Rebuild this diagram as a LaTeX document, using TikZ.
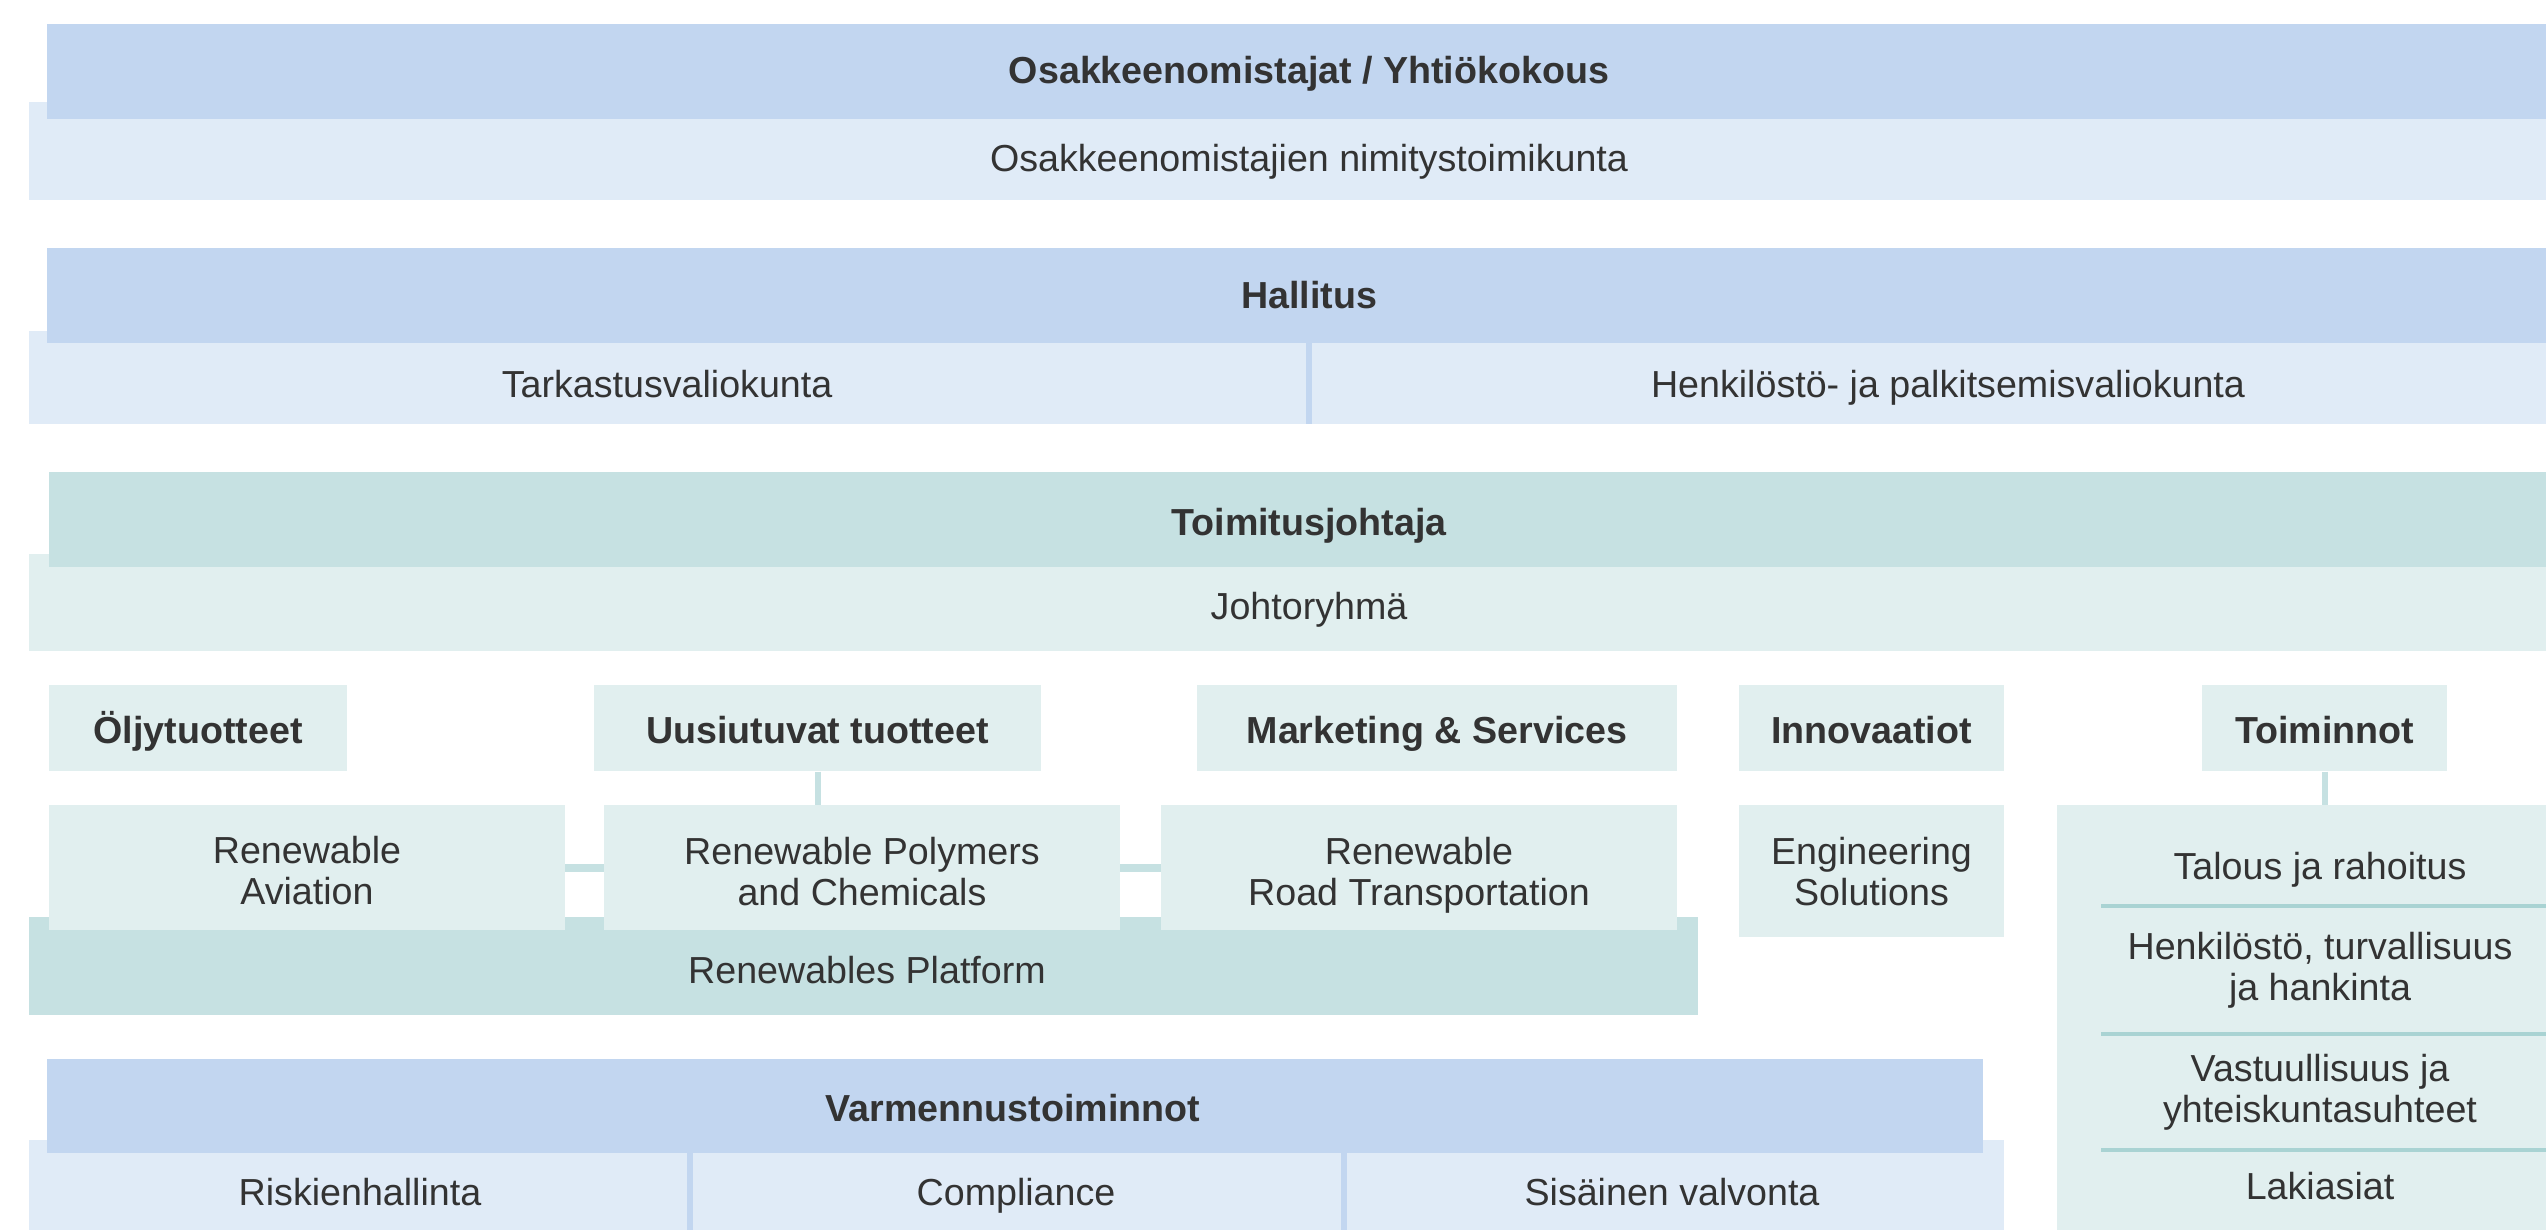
\documentclass[tikz,border=0pt]{standalone}
\usepackage{fontspec}
\setmainfont{Liberation Sans}
\definecolor{bdark}{HTML}{C2D6F0}
\definecolor{blight}{HTML}{E0EBF7}
\definecolor{tdark}{HTML}{C6E1E2}
\definecolor{tlight}{HTML}{E1EFEF}
\definecolor{tline}{HTML}{A9D3D3}
\definecolor{txt}{HTML}{333333}
\newcommand\bx[6]{\node[#6, inner sep=0pt, outer sep=0pt, minimum width={(#4-#2)*0.01cm}, minimum height={(#5-#3)*0.01cm}] (#1) at ({(#2+#4)/2},{(#3+#5)/2}) {};}
\begin{document}
\begin{tikzpicture}[x=0.01cm,y=-0.01cm,
  mlbl/.style={text=txt, font=\fontsize{10.7}{11.7}\selectfont, align=center, inner sep=0pt},
  lbl/.style={mlbl, text height=0.72em, text depth=0pt},
  hdr/.style={lbl, font=\fontsize{10.7}{11.7}\selectfont\bfseries},
  bd/.style={fill=bdark}, bl/.style={fill=blight},
  td/.style={fill=tdark}, tl/.style={fill=tlight},
  conn/.style={draw=tdark, line width=0.08cm},
  bdiv/.style={draw=bdark, line width=0.06cm},
  tsep/.style={draw=tline, line width=0.035cm}]
\useasboundingbox (0,0) rectangle (2546,1230);
\fill[white] (0,0) rectangle (2546,1230);
% Row 1
\bx{agml}{29}{102}{2546}{200}{bl}
\bx{agm}{47}{24}{2546}{119}{bd}
\node[hdr] (agmt) at (1309,71) {Osakkeenomistajat / Yhtiökokous};
\node[lbl] (nomt) at (1309,159) {Osakkeenomistajien nimitystoimikunta};
% Row 2
\bx{boardl}{29}{331}{2546}{424}{bl}
\bx{board}{47}{248}{2546}{343}{bd}
\draw[bdiv] (board.south -| 1309,0) -- (boardl.south -| 1309,0);
\node[hdr] (boardt) at (1309,296) {Hallitus};
\node[lbl] (auditt) at (667,385) {Tarkastusvaliokunta};
\node[lbl] (hrt) at (1948,385) {Henkilöstö- ja palkitsemisvaliokunta};
% Row 3
\bx{ceol}{29}{554}{2546}{651}{tl}
\bx{ceo}{49}{472}{2546}{567}{td}
\node[hdr] (ceot) at (1309,523) {Toimitusjohtaja};
\node[lbl] (mgmt) at (1309,607) {Johtoryhmä};
% Row 4 headers
\node[tl, inner sep=0pt, minimum width=2.98cm, minimum height=0.86cm] (oil) at (198,728) {};
\node[hdr] at ([yshift=-0.03cm]oil.center) {Öljytuotteet};
\node[tl, inner sep=0pt, minimum width=4.47cm, minimum height=0.86cm] (ren) at (817.5,728) {};
\node[hdr] at ([yshift=-0.03cm]ren.center) {Uusiutuvat tuotteet};
\node[tl, inner sep=0pt, minimum width=4.80cm, minimum height=0.86cm] (mks) at (1437,728) {};
\node[hdr] at ([yshift=-0.03cm]mks.center) {Marketing \& Services};
\node[tl, inner sep=0pt, minimum width=2.65cm, minimum height=0.86cm] (inn) at (1871.5,728) {};
\node[hdr] at ([yshift=-0.03cm]inn.center) {Innovaatiot};
\node[tl, inner sep=0pt, minimum width=2.45cm, minimum height=0.86cm] (ops) at (2324.5,728) {};
\node[hdr] at ([yshift=-0.03cm]ops.center) {Toiminnot};
% Renewables platform
\bx{plat}{29}{917}{1698}{1015}{td}
\node[lbl] (platt) at (867,971) {Renewables Platform};
% Row 5 boxes
\bx{avi}{49}{805}{565}{930}{tl}
\bx{pol}{604}{805}{1120}{930}{tl}
\bx{road}{1161}{805}{1677}{930}{tl}
\bx{eng}{1739}{805}{2004}{937}{tl}
\draw[conn] (avi.east) -- (pol.west);
\draw[conn] (pol.east) -- (road.west);
\draw[conn, line width=0.06cm] (ren.south) -- (ren.south |- pol.north);
\node[mlbl] (avit) at ([yshift=-0.05cm]avi.center) {Renewable\vphantom{Öj}\\Aviation\vphantom{Öj}};
\node[mlbl] (polt) at ([yshift=-0.055cm]pol.center) {Renewable Polymers\vphantom{Öj}\\and Chemicals\vphantom{Öj}};
\node[mlbl] (roadt) at ([yshift=-0.055cm]road.center) {Renewable\vphantom{Öj}\\Road Transportation\vphantom{Öj}};
\node[mlbl] (engt) at ([yshift=-0.02cm]eng.center) {Engineering\vphantom{Öj}\\Solutions\vphantom{Öj}};
% Toiminnot column
\bx{opsb}{2057}{805}{2546}{1230}{tl}
\draw[conn, line width=0.06cm] (ops.south) -- (ops.south |- opsb.north);
\draw[tsep] (2101,906) -- (2546,906);
\draw[tsep] (2101,1034) -- (2546,1034);
\draw[tsep] (2101,1150) -- (2546,1150);
\node[lbl] (fin) at (2320,867) {Talous ja rahoitus};
\node[mlbl] (hrs) at (2320,968) {Henkilöstö, turvallisuus\vphantom{Öj}\\ja hankinta\vphantom{Öj}};
\node[mlbl] (sus) at (2320,1090) {Vastuullisuus ja\vphantom{Öj}\\yhteiskuntasuhteet\vphantom{Öj}};
\node[lbl] (law) at (2320,1187) {Lakiasiat};
% Row 6
\bx{assl}{29}{1140}{2004}{1230}{bl}
\bx{ass}{47}{1059}{1983}{1153}{bd}
\draw[bdiv] (ass.south -| 690,0) -- (assl.south -| 690,0);
\draw[bdiv] (ass.south -| 1344,0) -- (assl.south -| 1344,0);
\node[hdr] (asst) at (1013,1109) {Varmennustoiminnot};
\node[lbl] (risk) at (360,1193) {Riskienhallinta};
\node[lbl] (comp) at (1016,1193) {Compliance};
\node[lbl] (ic) at (1672,1193) {Sisäinen valvonta};
\end{tikzpicture}
\end{document}
